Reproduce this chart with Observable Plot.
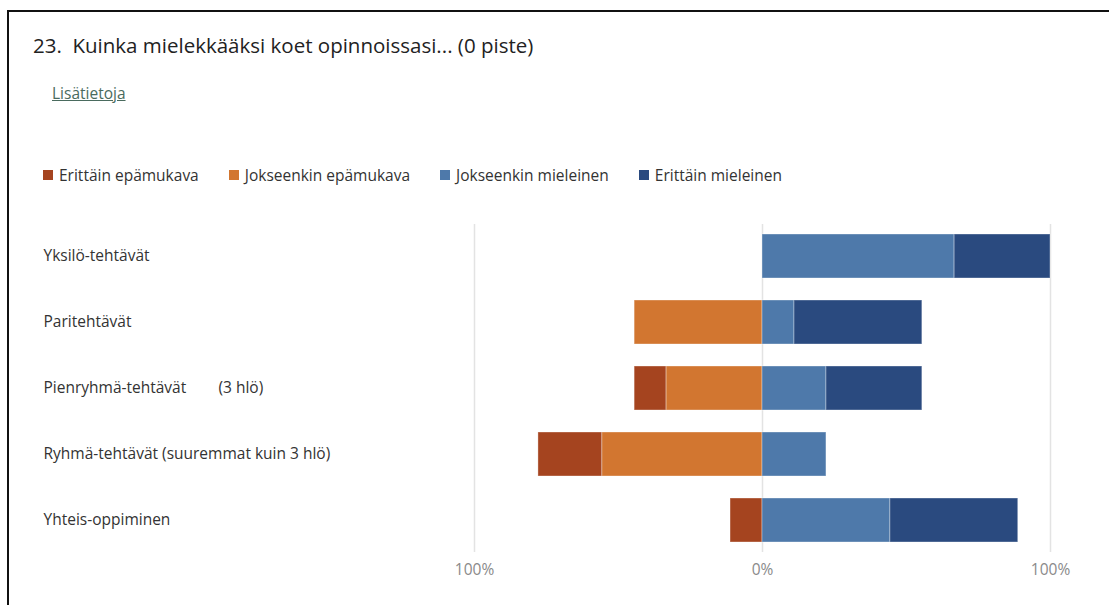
<!DOCTYPE html>
<html>
<head>
<meta charset="utf-8">
<script src="https://cdn.jsdelivr.net/npm/d3@7"></script>
<script src="https://cdn.jsdelivr.net/npm/@observablehq/plot@0.6"></script>
<style>
  html, body { margin: 0; padding: 0; background: #fff; }
  body { width: 1109px; height: 605px; position: relative; overflow: hidden; font-family: "Open Sans", "Noto Sans", sans-serif; }
  #frame { position: absolute; left: 7px; top: 10px; width: 1200px; height: 700px; border-left: 2px solid #111; border-top: 2px solid #111; z-index: 5; pointer-events: none; }
  #title { position: absolute; left: 33px; top: 31px; font-size: 20.5px; color: #222; white-space: pre; }
  #more { position: absolute; left: 52px; top: 82px; font-size: 15.5px; color: #4a6b5e; text-decoration: underline; }
  #legend { position: absolute; left: 43px; top: 164px; font-size: 15.5px; color: #333; display: flex; }
  #legend .item { display: flex; align-items: center; margin-right: 30px; }
  #legend .sw { width: 10px; height: 10px; margin-right: 6px; }
  #chart { position: absolute; left: 0; top: 214px; }
  #chart svg text { white-space: pre; }
</style>
</head>
<body>
<div id="frame"></div>
<div id="title"></div>
<div id="more">Lisätietoja</div>
<div id="legend"></div>
<div id="chart"></div>
<script>
const titleText = "23.  Kuinka mielekkääksi koet opinnoissasi... (0 piste)";
const categories = [
  "Yksilö-tehtävät",
  "Paritehtävät",
  "Pienryhmä-tehtävät        (3 hlö)",
  "Ryhmä-tehtävät (suuremmat kuin 3 hlö)",
  "Yhteis-oppiminen"
];
const seriesNames = ["Erittäin epämukava", "Jokseenkin epämukava", "Jokseenkin mieleinen", "Erittäin mieleinen"];
const seriesColors = ["#a5441f", "#d27630", "#4e79aa", "#2a4a7f"];
// shares (0..1) per category, in the order of categories
const erittainEpamukava   = [0, 0, 0.111, 0.222, 0.111];
const jokseenkinEpamukava = [0, 0.444, 0.333, 0.556, 0];
const jokseenkinMieleinen = [0.667, 0.111, 0.222, 0.222, 0.444];
const erittainMieleinen   = [0.333, 0.444, 0.333, 0, 0.444];
const xTicks = [-1, 0, 1];
const xTickLabels = ["100%", "0%", "100%"];

document.getElementById("title").textContent = titleText;
const leg = document.getElementById("legend");
seriesNames.forEach((n, i) => {
  const it = document.createElement("div"); it.className = "item";
  const sw = document.createElement("div"); sw.className = "sw"; sw.style.background = seriesColors[i];
  const tx = document.createElement("span"); tx.textContent = n;
  it.appendChild(sw); it.appendChild(tx); leg.appendChild(it);
});

const rows = [];
categories.forEach((c, i) => {
  rows.push({cat: c, s: seriesNames[0], v: -erittainEpamukava[i]});
  rows.push({cat: c, s: seriesNames[1], v: -jokseenkinEpamukava[i]});
  rows.push({cat: c, s: seriesNames[2], v: jokseenkinMieleinen[i]});
  rows.push({cat: c, s: seriesNames[3], v: erittainMieleinen[i]});
});
const data = rows.filter(d => d.v !== 0);
const stackOrder = [seriesNames[1], seriesNames[0], seriesNames[2], seriesNames[3]];

const chart = Plot.plot({
  width: 1109,
  height: 380,
  marginLeft: 474,
  marginRight: 59,
  marginTop: 10,
  marginBottom: 42,
  style: {fontFamily: "'Open Sans', 'Noto Sans', sans-serif", fontSize: "15.5px", background: "transparent"},
  x: {domain: [-1, 1]},
  y: {domain: categories, paddingInner: 0.34, paddingOuter: 0.15, label: null},
  color: {domain: seriesNames, range: seriesColors},
  marks: [
    Plot.ruleX(xTicks, {stroke: "#e3e3e3", strokeWidth: 1.5}),
    Plot.ruleY([0], {frameAnchor: "bottom", stroke: "#e3e3e3", strokeWidth: 1.5}),
    Plot.barX(data, Plot.stackX({x: "v", y: "cat", fill: "s", z: "s", order: stackOrder, stroke: "white", strokeOpacity: 0.35, strokeWidth: 1})),
    Plot.axisX({ticks: xTicks, tickFormat: d => xTickLabels[xTicks.indexOf(d)], tickSize: 0, tickPadding: 11, label: null, fill: "#8a8a8a", fontSize: 15.5}),
    Plot.axisY({tickSize: 0, tickPadding: 0, textAnchor: "start", dx: -431, label: null, fill: "#333", fontSize: 15.5})
  ]
});
document.getElementById("chart").appendChild(chart);
</script>
</body>
</html>
